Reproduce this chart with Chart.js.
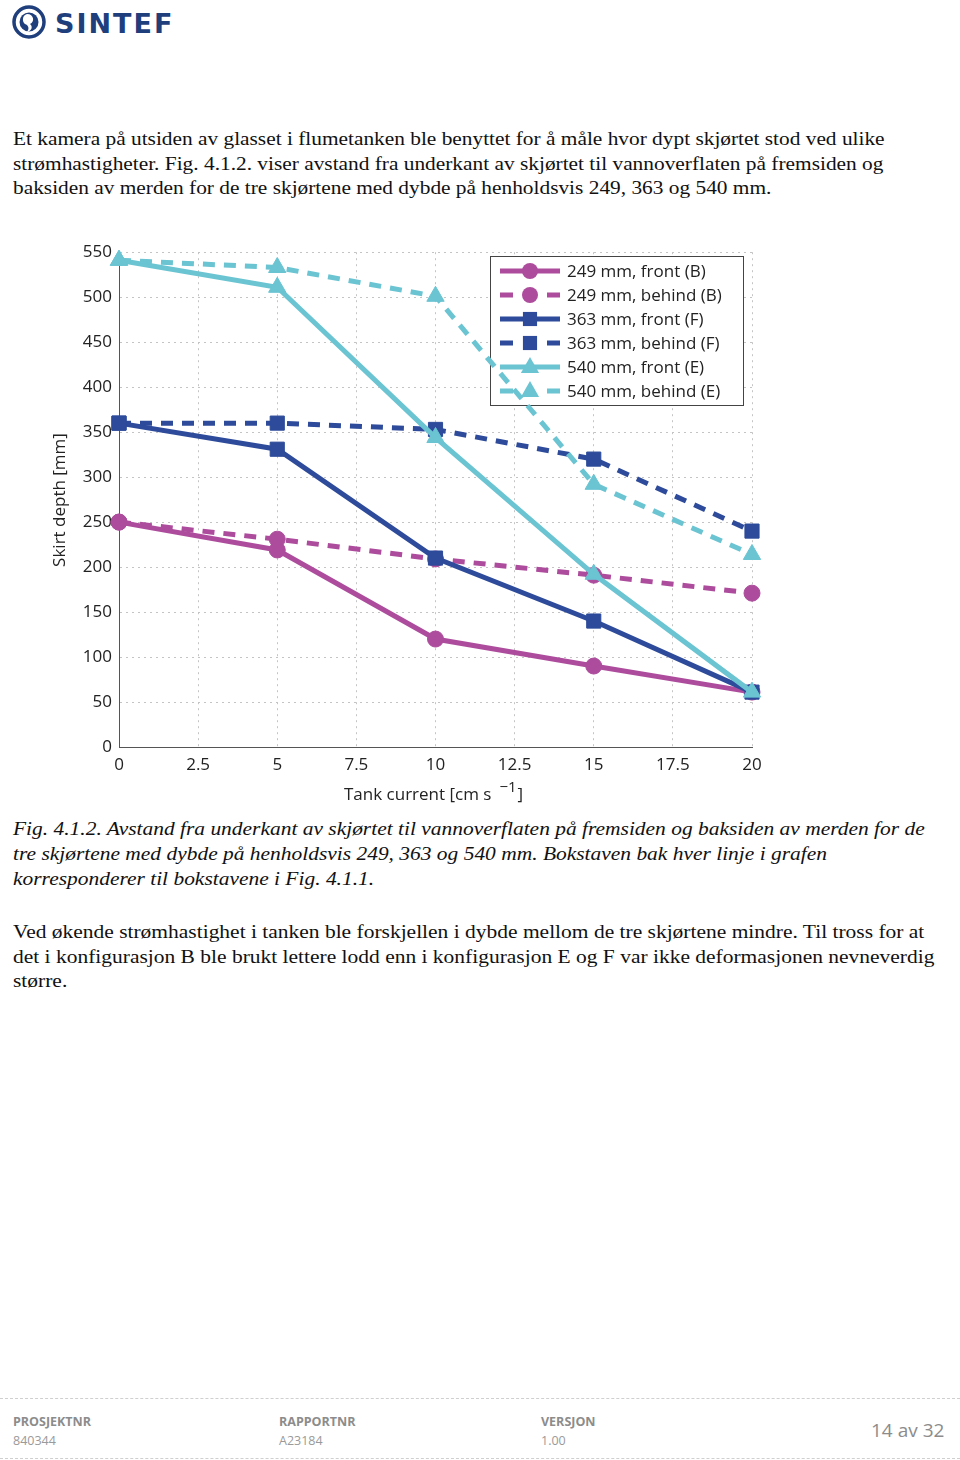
<!DOCTYPE html>
<html>
<head>
<meta charset="utf-8">
<script src="https://cdn.jsdelivr.net/npm/chart.js@4"></script>
<style>
  html, body { margin: 0; padding: 0; background: #fff; }
  body { width: 960px; height: 1460px; position: relative; overflow: hidden; }
  .serif { position: absolute; left: 13px; font-family: "Liberation Serif", "DejaVu Serif", serif; font-size: 19px; line-height: 24px; color: #111; white-space: nowrap; transform-origin: 0 0; }
  .it { font-style: italic; }
  #chartBox { position: absolute; left: 40px; top: 235px; width: 730px; height: 580px; }
  .foot { position: absolute; font-family: "Open Sans", sans-serif; color: #8c8c8c; white-space: nowrap; }
  .foot b { display: block; font-size: 12.5px; font-weight: 700; line-height: 19px; }
  .foot span { display: block; font-size: 12.5px; line-height: 19px; color: #9a9a9a; }
  .dash { position: absolute; left: 0; width: 960px; border-top: 1px dashed #cfcfcf; }
</style>
</head>
<body>

<svg style="position:absolute;left:10px;top:4px" width="170" height="38" viewBox="0 0 170 38">
  <circle cx="19" cy="18" r="15" fill="none" stroke="#1f3e7c" stroke-width="3.5"/>
  <circle cx="19" cy="18" r="9.5" fill="#1f3e7c"/>
  <path d="M17 10 C 24 10, 25 18, 20 20 C 23 22, 22 27, 17 28 C 20 24, 18 21, 15 20 C 12 18, 12 11, 17 10 Z" fill="#fff"/>
  <text x="45" y="29" font-family="DejaVu Sans, sans-serif" font-weight="bold" font-size="27" letter-spacing="2" fill="#1f3e7c">SINTEF</text>
</svg>

<div class="serif" data-w="872" data-g="p1" style="top:127px">Et kamera på utsiden av glasset i flumetanken ble benyttet for å måle hvor dypt skjørtet stod ved ulike</div>
<div class="serif" data-g="p1" style="top:151.5px">strømhastigheter. Fig. 4.1.2. viser avstand fra underkant av skjørtet til vannoverflaten på fremsiden og</div>
<div class="serif" data-g="p1" style="top:176px">baksiden av merden for de tre skjørtene med dybde på henholdsvis 249, 363 og 540 mm.</div>

<div id="chartBox"><canvas id="chart"></canvas></div>

<div class="serif it" data-w="912" data-g="p2" style="top:817px">Fig. 4.1.2. Avstand fra underkant av skjørtet til vannoverflaten på fremsiden og baksiden av merden for de</div>
<div class="serif it" data-g="p2" style="top:842px">tre skjørtene med dybde på henholdsvis 249, 363 og 540 mm. Bokstaven bak hver linje i grafen</div>
<div class="serif it" data-g="p2" style="top:867px">korresponderer til bokstavene i Fig. 4.1.1.</div>

<div class="serif" data-w="911" data-g="p3" style="top:920px">Ved økende strømhastighet i tanken ble forskjellen i dybde mellom de tre skjørtene mindre. Til tross for at</div>
<div class="serif" data-g="p3" style="top:944.5px">det i konfigurasjon B ble brukt lettere lodd enn i konfigurasjon E og F var ikke deformasjonen nevneverdig</div>
<div class="serif" data-g="p3" style="top:969px">større.</div>

<div class="dash" style="top:1398px"></div>
<div class="foot" style="left:13px;top:1412px"><b>PROSJEKTNR</b><span>840344</span></div>
<div class="foot" style="left:279px;top:1412px"><b>RAPPORTNR</b><span>A23184</span></div>
<div class="foot" style="left:541px;top:1412px"><b>VERSJON</b><span>1.00</span></div>
<div class="foot" style="left:871px;top:1417px;font-size:19px;line-height:26px">14 av 32</div>
<div class="dash" style="top:1458px"></div>

<script>
// Tank current [cm/s] and skirt depth [mm]
var currents = [0, 5, 10, 15, 20];
var seriesNames = [
	'249 mm, front (B)', '249 mm, behind (B)',
	'363 mm, front (F)', '363 mm, behind (F)',
	'540 mm, front (E)', '540 mm, behind (E)'
];
var front249 = [250, 219, 120, 90, 61];
var behind249 = [250, 231, 209, 191, 171];
var front363 = [360, 331, 210, 140, 61];
var behind363 = [360, 360, 353, 320, 240];
var front540 = [541, 511, 344, 192, 61];
var behind540 = [541, 533, 501, 292, 214];

var xMin = 0, xMax = 20, xStep = 2.5;
var yMin = 0, yMax = 550, yStep = 50;

var MAGENTA = '#ad4c9c';
var NAVY = '#2d4b9a';
var CYAN = '#6ac4d2';
var FONT = '"Open Sans", "Noto Sans", sans-serif';

// stretch justified lines to their width in the original page
(function () {
	var groups = {};
	document.querySelectorAll('.serif').forEach(function (el) {
		var g = el.getAttribute('data-g');
		var w = el.getAttribute('data-w');
		if (w) {
			groups[g] = parseFloat(w) / el.scrollWidth;
		}
	});
	document.querySelectorAll('.serif').forEach(function (el) {
		var s = groups[el.getAttribute('data-g')];
		if (s) el.style.transform = 'scaleX(' + s + ')';
	});
})();

function pts(values) {
	return values.map(function (v, i) { return { x: currents[i], y: v }; });
}

function makeSet(i, values, color, style, radius, dashed) {
	return {
		label: seriesNames[i],
		data: pts(values),
		borderColor: color,
		backgroundColor: color,
		borderWidth: 5,
		borderDash: dashed ? [12, 9] : [],
		pointStyle: style,
		pointRadius: radius,
		pointBorderWidth: 1,
		pointBackgroundColor: color,
		pointBorderColor: color,
		tension: 0,
		fill: false,
		clip: false,
		order: 5 - i
	};
}

var datasets = [
	makeSet(0, front249, MAGENTA, 'circle', 8, false),
	makeSet(1, behind249, MAGENTA, 'circle', 8, true),
	makeSet(2, front363, NAVY, 'rect', 10, false),
	makeSet(3, behind363, NAVY, 'rect', 10, true),
	makeSet(4, front540, CYAN, 'triangle', 10, false),
	makeSet(5, behind540, CYAN, 'triangle', 10, true)
];

function drawMarker(ctx, style, r, x, y) {
	ctx.beginPath();
	if (style === 'circle') {
		ctx.arc(x, y, r, 0, Math.PI * 2);
	} else if (style === 'rect') {
		var s = Math.SQRT1_2 * r;
		ctx.rect(x - s, y - s, 2 * s, 2 * s);
	} else {
		ctx.moveTo(x, y - r);
		ctx.lineTo(x + r * 0.91, y + r * 0.5 + 1);
		ctx.lineTo(x - r * 0.91, y + r * 0.5 + 1);
		ctx.closePath();
	}
	ctx.fill();
}

// boxed legend in the upper right, drawn below the lines
var boxLegend = {
	id: 'boxLegend',
	beforeDatasetsDraw: function (chart) {
		var ctx = chart.ctx;
		var bx = 450, by = 21, bw = 253, bh = 149;
		ctx.save();
		ctx.fillStyle = '#fff';
		ctx.fillRect(bx, by, bw, bh);
		ctx.strokeStyle = '#444';
		ctx.lineWidth = 1;
		ctx.strokeRect(bx + 0.5, by + 0.5, bw, bh);
		chart.data.datasets.forEach(function (ds, i) {
			var cy = by + 15 + i * 24;
			ctx.strokeStyle = ds.borderColor;
			ctx.fillStyle = ds.borderColor;
			ctx.lineWidth = 5;
			ctx.beginPath();
			if (ds.borderDash.length) {
				ctx.moveTo(460, cy); ctx.lineTo(473, cy);
				ctx.moveTo(507, cy); ctx.lineTo(520, cy);
			} else {
				ctx.moveTo(460, cy); ctx.lineTo(520, cy);
			}
			ctx.stroke();
			drawMarker(ctx, ds.pointStyle, ds.pointRadius, 490, cy);
			ctx.fillStyle = '#222';
			ctx.font = '17px ' + FONT;
			ctx.textAlign = 'left';
			ctx.textBaseline = 'middle';
			ctx.fillText(ds.label, 527, cy + 1);
		});
		ctx.restore();
	}
};

// axis titles, with the superscript unit on the x axis
var axisTitles = {
	id: 'axisTitles',
	afterDraw: function (chart) {
		var ctx = chart.ctx;
		ctx.save();
		ctx.fillStyle = '#222';
		ctx.font = '17px ' + FONT;
		ctx.textBaseline = 'alphabetic';
		ctx.textAlign = 'left';
		var main = 'Tank current [cm s';
		var x0 = 304, base = 565;
		ctx.fillText(main, x0, base);
		var w = ctx.measureText(main).width;
		ctx.font = '15px ' + FONT;
		ctx.fillText('\u22121', x0 + w + 8, base - 8);
		var w2 = ctx.measureText('\u22121').width;
		ctx.font = '17px ' + FONT;
		ctx.fillText(']', x0 + w + 8 + w2 + 1, base);

		ctx.translate(20, 265);
		ctx.rotate(-Math.PI / 2);
		ctx.textAlign = 'center';
		ctx.textBaseline = 'middle';
		ctx.fillText('Skirt depth [mm]', 0, 0);
		ctx.restore();
	}
};

new Chart(document.getElementById('chart').getContext('2d'), {
	type: 'line',
	data: { datasets: datasets },
	plugins: [boxLegend, axisTitles],
	options: {
		responsive: true,
		maintainAspectRatio: false,
		animation: false,
		layout: { padding: { top: 13, right: 18, left: 0, bottom: 0 } },
		plugins: {
			legend: { display: false },
			tooltip: { enabled: false }
		},
		scales: {
			x: {
				type: 'linear',
				min: xMin,
				max: xMax,
				afterFit: function (scale) { scale.height = 68; },
				ticks: {
					stepSize: xStep,
					padding: 8,
					maxRotation: 0,
					color: '#222',
					font: { family: FONT, size: 17 }
				},
				grid: { color: '#c4c4c4', lineWidth: 1, drawTicks: false },
				border: { color: '#555', width: 1, dash: [2, 4] }
			},
			y: {
				min: yMin,
				max: yMax,
				afterFit: function (scale) { scale.width = 79; },
				ticks: {
					stepSize: yStep,
					padding: 7,
					color: '#222',
					font: { family: FONT, size: 17 }
				},
				grid: { color: '#c4c4c4', lineWidth: 1, drawTicks: false },
				border: { color: '#555', width: 1, dash: [2, 4] }
			}
		}
	}
});
</script>
</body>
</html>
